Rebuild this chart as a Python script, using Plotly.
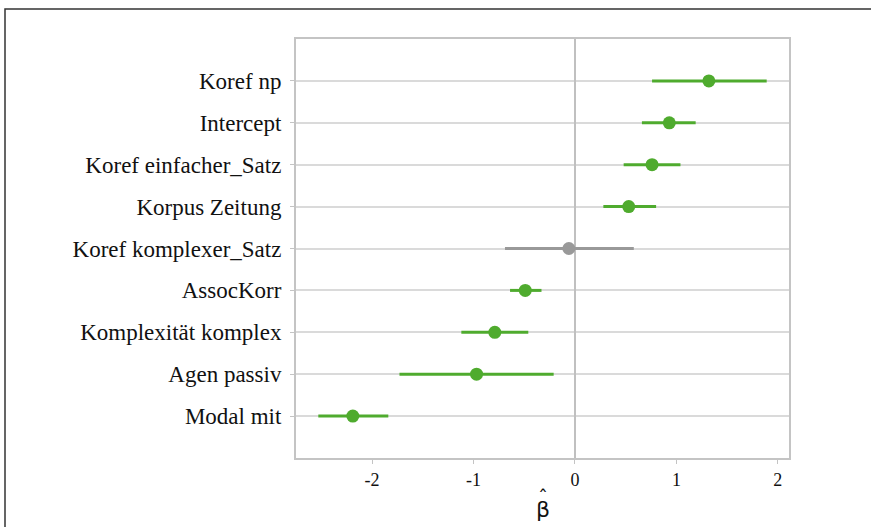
import plotly.graph_objects as go

terms = ["Koref np", "Intercept", "Koref einfacher_Satz", "Korpus Zeitung",
         "Koref komplexer_Satz", "AssocKorr", "Komplexität komplex",
         "Agen passiv", "Modal mit"]
estimate = [1.32, 0.93, 0.76, 0.53, -0.06, -0.49, -0.79, -0.97, -2.19]
lower = [0.76, 0.66, 0.48, 0.28, -0.69, -0.64, -1.12, -1.73, -2.53]
upper = [1.89, 1.19, 1.04, 0.80, 0.58, -0.33, -0.46, -0.21, -1.84]
x_ticks = [-2, -1, 0, 1, 2]
x_title = "β"
x_title_hat = "ˆ"

GREEN = "#4fab2e"
GRAY = "#999999"
FONT = "Liberation Serif"

fig = go.Figure()
for sig, color in [(True, GREEN), (False, GRAY)]:
    idx = [i for i in range(len(terms)) if (lower[i] > 0 or upper[i] < 0) == sig]
    fig.add_trace(go.Scatter(
        x=[estimate[i] for i in idx],
        y=[terms[i] for i in idx],
        mode="markers",
        marker=dict(color=color, size=13),
        error_x=dict(type="data", symmetric=False,
                     array=[upper[i] - estimate[i] for i in idx],
                     arrayminus=[estimate[i] - lower[i] for i in idx],
                     color=color, thickness=3, width=0),
        showlegend=False,
    ))

L, R, T, B = 296, 82, 39, 69
W, H = 871, 527
pw, ph = W - L - R, H - T - B

def py(pix):
    return (T + ph - pix) / ph

fig.update_layout(
    width=W, height=H,
    margin=dict(l=L, r=R, t=T, b=B),
    paper_bgcolor="white", plot_bgcolor="white",
    font=dict(family=FONT, color="#111111"),
    xaxis=dict(
        range=[-2.75, 2.11], tickvals=x_ticks, ticktext=[str(v) for v in x_ticks],
        showgrid=False, zeroline=True, zerolinecolor="#c0c0c0", zerolinewidth=2,
        showline=True, linecolor="#c4c4c4", linewidth=2, mirror=True,
        ticks="outside", ticklen=4, tickcolor="#c4c4c4", tickwidth=1,
        tickfont=dict(size=18, family=FONT, color="#111111"),
    ),
    yaxis=dict(
        type="category", categoryorder="array", categoryarray=terms,
        range=[len(terms), -1],
        showgrid=True, gridcolor="#dadada", gridwidth=2,
        showline=True, linecolor="#c4c4c4", linewidth=2, mirror=True,
        ticks="outside", ticklen=4, tickcolor="#c4c4c4", tickwidth=1,
        ticklabelstandoff=4,
        tickfont=dict(size=23, family=FONT, color="#111111"),
    ),
    annotations=[
        dict(text=x_title, xref="paper", yref="paper", x=0.5, y=py(509),
             xanchor="center", yanchor="middle", showarrow=False,
             font=dict(size=22, family="DejaVu Sans", color="#111111")),
        dict(text=x_title_hat, xref="paper", yref="paper", x=0.5, y=py(497),
             xanchor="center", yanchor="middle", showarrow=False,
             font=dict(size=20, family="DejaVu Sans", color="#111111")),
    ],
)

# outer figure frame (top and left edges visible)
fig.add_shape(type="rect", xref="paper", yref="paper",
              x0=(5 - L) / pw, x1=(W + 20 - L) / pw,
              y0=py(H + 20), y1=py(9),
              line=dict(color="#333333", width=1.5), fillcolor="rgba(0,0,0,0)",
              layer="below")

fig.write_html("out.html", config={"displayModeBar": False},
               post_script="document.body.style.margin='0';document.body.style.overflow='hidden';")
